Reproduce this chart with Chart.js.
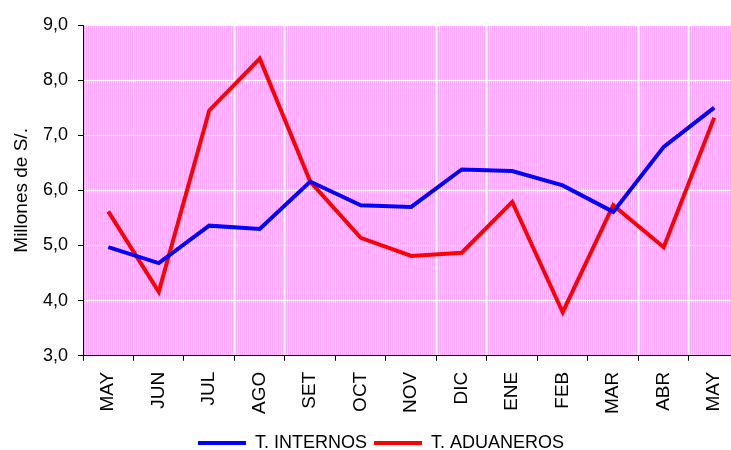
<!DOCTYPE html>
<html>
<head>
<meta charset="utf-8">
<script src="https://cdn.jsdelivr.net/npm/chart.js@4"></script>
<style>
  html, body { margin: 0; padding: 0; background: #fff; overflow: hidden; }
  #wrap { width: 748px; height: 450px; }
</style>
</head>
<body>
<div id="wrap"><canvas id="grafico" width="748" height="450"></canvas></div>
<script>
/* ---- datos ---- */
const meses = ["MAY", "JUN", "JUL", "AGO", "SET", "OCT", "NOV", "DIC", "ENE", "FEB", "MAR", "ABR", "MAY"];
const internos = [4.97, 4.68, 5.36, 5.30, 6.16, 5.73, 5.70, 6.38, 6.35, 6.09, 5.61, 6.79, 7.50];
const aduaneros = [5.62, 4.16, 7.45, 8.39, 6.16, 5.14, 4.81, 4.87, 5.79, 3.79, 5.73, 4.97, 7.32];
const yTicks = [3, 4, 5, 6, 7, 8, 9];

const FONT = "'Liberation Sans', Arial, sans-serif";

// patrón rosa a rayas verticales
const pc = document.createElement("canvas");
pc.width = 2;
pc.height = 1;
const pctx = pc.getContext("2d");
pctx.fillStyle = "#ffa6ff";
pctx.fillRect(0, 0, 1, 1);
pctx.fillStyle = "#ffd9ff";
pctx.fillRect(1, 0, 1, 1);

const fondoRosa = {
  id: "fondoRosa",
  beforeDraw(chart) {
    const a = chart.chartArea;
    const ctx = chart.ctx;
    ctx.save();
    ctx.fillStyle = ctx.createPattern(pc, "repeat");
    ctx.fillRect(a.left, a.top, a.right - a.left, a.bottom - a.top);
    ctx.restore();
  }
};

// mover la leyenda un poco a la derecha y abajo
const moverLeyenda = {
  id: "moverLeyenda",
  afterLayout(chart) {
    const lg = chart.legend;
    if (!lg) return;
    lg.left += 7;
    lg.right += 7;
    lg.top += 12;
    lg.bottom += 12;
  }
};

const ctx = document.getElementById("grafico").getContext("2d");
new Chart(ctx, {
  type: "line",
  data: {
    labels: meses,
    datasets: [
      {
        label: "T. INTERNOS",
        data: internos,
        borderColor: "#0000ff",
        backgroundColor: "#0000ff",
        borderWidth: 4,
        pointRadius: 0,
        tension: 0
      },
      {
        label: "T. ADUANEROS",
        data: aduaneros,
        borderColor: "#ff0000",
        backgroundColor: "#ff0000",
        borderWidth: 4,
        pointRadius: 0,
        tension: 0
      }
    ]
  },
  options: {
    responsive: false,
    animation: false,
    layout: { padding: { top: 25, right: 0, bottom: 0, left: 0 } },
    plugins: {
      tooltip: { enabled: false },
      legend: {
        position: "bottom",
        labels: {
          color: "#000",
          font: { family: FONT, size: 18 },
          boxWidth: 48,
          boxHeight: 4,
          padding: 7,
          generateLabels(chart) {
            const items = Chart.defaults.plugins.legend.labels.generateLabels(chart);
            items.forEach(it => { it.lineWidth = 0; it.fillStyle = it.strokeStyle; });
            return items;
          }
        }
      }
    },
    scales: {
      x: {
        offset: true,
        afterFit(scale) { scale.height -= 10; },
        grid: { color: "#ffffff", offset: true, tickColor: "#000", tickLength: 5 },
        border: { color: "#000", width: 1 },
        ticks: {
          color: "#000",
          font: { family: FONT, size: 19 },
          maxRotation: 90,
          minRotation: 90,
          padding: 11,
          autoSkip: false
        }
      },
      y: {
        min: 3,
        max: 9,
        afterFit(scale) { scale.width = 83; },
        afterBuildTicks(scale) { scale.ticks = yTicks.map(v => ({ value: v })); },
        grid: { color: "#ffffff", tickColor: "#000", tickLength: 5 },
        border: { color: "#000", width: 1 },
        title: {
          display: true,
          text: "Millones de S/.",
          color: "#000",
          font: { family: FONT, size: 19 },
          padding: { top: 10, bottom: 0 }
        },
        ticks: {
          color: "#000",
          font: { family: FONT, size: 18 },
          padding: 10,
          callback: v => v.toFixed(1).replace(".", ",")
        }
      }
    }
  },
  plugins: [fondoRosa, moverLeyenda]
});
</script>
</body>
</html>
